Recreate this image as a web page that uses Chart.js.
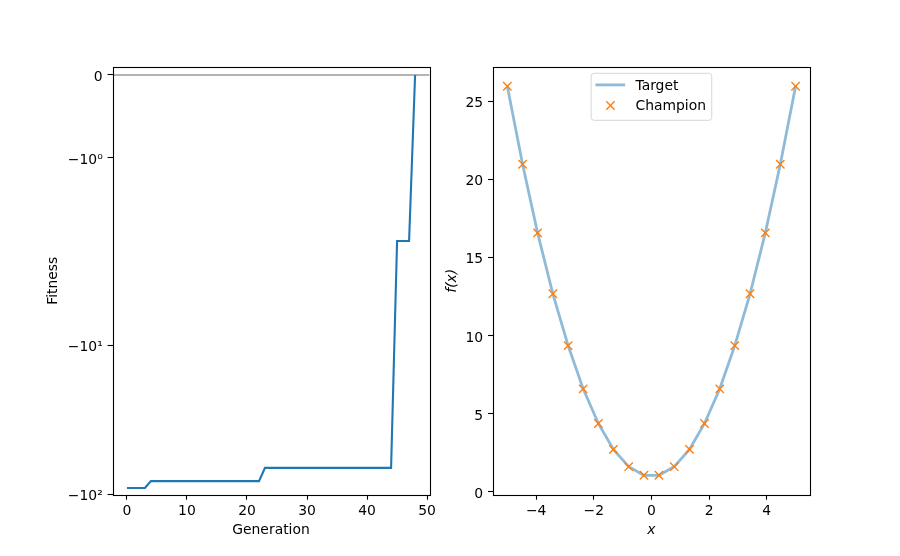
<!DOCTYPE html>
<html>
<head>
<meta charset="utf-8">
<script src="https://cdn.jsdelivr.net/npm/chart.js@4/dist/chart.umd.min.js"></script>
<style>
  html, body { margin: 0; padding: 0; background: #fff; }
  #wrap { position: relative; width: 900px; height: 556px; }
  #wrap canvas { position: absolute; left: 0; top: 0; }
</style>
</head>
<body>
<div id="wrap">
  <canvas id="fitnessChart" width="900" height="556"></canvas>
  <canvas id="fitChart" width="900" height="556"></canvas>
</div>
<script>
// Left panel: champion fitness per generation (symlog y axis)
var generations = [0, 1, 2, 3, 4, 5, 6, 7, 8, 9, 10, 11, 12, 13, 14, 15, 16, 17, 18, 19,
    20, 21, 22, 23, 24, 25, 26, 27, 28, 29, 30, 31, 32, 33, 34, 35, 36, 37, 38, 39,
    40, 41, 42, 43, 44, 45, 46, 47, 48];
var fitness = [-90, -90, -90, -90, -81, -81, -81, -81, -81, -81, -81, -81, -81, -81, -81, -81, -81, -81, -81, -81,
    -81, -81, -81, -66, -66, -66, -66, -66, -66, -66, -66, -66, -66, -66, -66, -66, -66, -66, -66, -66,
    -66, -66, -66, -66, -66, -2, -2, -2, 0];
var fitnessXTicks = [0, 10, 20, 30, 40, 50];
var fitnessYTicks = [0, -1, -10, -100];
var fitnessYTickLabels = ['0', '\u221210\u2070', '\u221210\u00b9', '\u221210\u00b2'];

// Right panel: target function vs champion
var xs = [-5, -4.47, -3.95, -3.42, -2.89, -2.37, -1.84, -1.32, -0.79, -0.26,
    0.26, 0.79, 1.32, 1.84, 2.37, 2.89, 3.42, 3.95, 4.47, 5];
var target = [26, 21.0, 16.6, 12.7, 9.38, 6.61, 4.39, 2.73, 1.62, 1.07,
    1.07, 1.62, 2.73, 4.39, 6.61, 9.38, 12.7, 16.6, 21.0, 26];
var champion = [26, 21.0, 16.6, 12.7, 9.38, 6.61, 4.39, 2.73, 1.62, 1.07,
    1.07, 1.62, 2.73, 4.39, 6.61, 9.38, 12.7, 16.6, 21.0, 26];
var fitXTicks = [-4, -2, 0, 2, 4];
var fitYTicks = [0, 5, 10, 15, 20, 25];

Chart.defaults.font.family = 'DejaVu Sans';
Chart.defaults.font.size = 13.9;
Chart.defaults.color = '#000';

// symlog transform, matplotlib style (base 10, linthresh 2, linscale 1)
var LINTHRESH = 2;
var LINSCALE_ADJ = 1 / (1 - 1 / 10);
function symlog(v) {
    var a = Math.abs(v);
    if (a <= LINTHRESH) return v * LINSCALE_ADJ;
    return Math.sign(v) * LINTHRESH * (LINSCALE_ADJ + Math.log10(a / LINTHRESH));
}
function symexp(t) {
    var a = Math.abs(t);
    if (a <= LINTHRESH * LINSCALE_ADJ) return t / LINSCALE_ADJ;
    return Math.sign(t) * LINTHRESH * Math.pow(10, a / LINTHRESH - LINSCALE_ADJ);
}

class SymlogScale extends Chart.LinearScale {
    static id = 'symlog';
    static defaults = {};
    buildTicks() {
        return (this.options.tickValues || []).map(function (v) { return { value: v }; });
    }
    configure() {
        super.configure();
        this._tStart = symlog(this.min);
        this._tRange = symlog(this.max) - this._tStart;
    }
    getPixelForValue(value) {
        if (value === null || isNaN(value)) return NaN;
        return this.getPixelForDecimal((symlog(value) - this._tStart) / this._tRange);
    }
    getValueForPixel(pixel) {
        return symexp(this._tStart + this.getDecimalForPixel(pixel) * this._tRange);
    }
}
Chart.register(SymlogScale);

function minus(v) {
    return v < 0 ? '\u2212' + Math.abs(v) : String(v);
}

function fixedTicks(values) {
    return function (scale) {
        scale.ticks = values.map(function (v) { return { value: v }; });
    };
}

var axisGrid = { drawOnChartArea: false, drawTicks: true, tickLength: 4.9, tickColor: '#000', tickWidth: 1.1 };
var axisBorder = { display: false };

// all four spines
var framePlugin = {
    id: 'frame',
    afterDraw: function (chart) {
        var a = chart.chartArea;
        var ctx = chart.ctx;
        ctx.save();
        ctx.strokeStyle = '#000';
        ctx.lineWidth = 1.1;
        ctx.strokeRect(Math.round(a.left) + 0.5, Math.round(a.top) + 0.5,
            Math.round(a.right - a.left), Math.round(a.bottom - a.top));
        ctx.restore();
    }
};

// matplotlib-like legend inside the axes, upper center
var boxLegendPlugin = {
    id: 'boxLegend',
    afterDatasetsDraw: function (chart) {
        var a = chart.chartArea;
        var ctx = chart.ctx;
        var w = 120.6, h = 47;
        var left = (a.left + a.right) / 2 - w / 2;
        var top = a.top + 6.6;
        ctx.save();
        ctx.beginPath();
        ctx.roundRect(left, top, w, h, 3);
        ctx.fillStyle = 'rgba(255,255,255,0.8)';
        ctx.fill();
        ctx.strokeStyle = 'rgba(204,204,204,0.8)';
        ctx.lineWidth = 1;
        ctx.stroke();
        ctx.font = '13.9px "DejaVu Sans"';
        ctx.textBaseline = 'middle';
        ctx.textAlign = 'left';
        chart.data.datasets.forEach(function (ds, i) {
            var y = top + 11.6 + i * 20.6;
            if (ds.showLine !== false) {
                ctx.strokeStyle = ds.borderColor;
                ctx.lineWidth = ds.borderWidth;
                ctx.beginPath();
                ctx.moveTo(left + 4.3, y);
                ctx.lineTo(left + 34, y);
                ctx.stroke();
            } else {
                ctx.strokeStyle = ds.pointBorderColor;
                ctx.lineWidth = ds.pointBorderWidth;
                ctx.beginPath();
                var r = ds.pointRadius * Math.SQRT1_2;
                ctx.moveTo(left + 19.3 - r, y - r); ctx.lineTo(left + 19.3 + r, y + r);
                ctx.moveTo(left + 19.3 - r, y + r); ctx.lineTo(left + 19.3 + r, y - r);
                ctx.stroke();
            }
            ctx.fillStyle = '#000';
            ctx.fillText(ds.label, left + 44.3, y + 1);
        });
        ctx.restore();
    }
};

// Fitness chart
var fitnessXMin = -2.4, fitnessXMax = 50.4;
new Chart(document.getElementById('fitnessChart'), {
    type: 'line',
    data: {
        datasets: [{
            label: 'zero',
            data: [{ x: fitnessXMin, y: 0 }, { x: fitnessXMax, y: 0 }],
            borderColor: '#b3b3b3',
            borderWidth: 2,
            pointRadius: 0,
            order: 1
        }, {
            label: 'Fitness',
            data: generations.map(function (g, i) { return { x: g, y: fitness[i] }; }),
            borderColor: '#1f77b4',
            borderWidth: 2.1,
            pointRadius: 0,
            tension: 0,
            order: 0
        }]
    },
    options: {
        responsive: false,
        animation: false,
        events: [],
        layout: { padding: { left: 42.5, top: 66.7, right: 470.5, bottom: 11.2 } },
        plugins: { legend: { display: false }, tooltip: { enabled: false } },
        scales: {
            x: {
                type: 'linear',
                min: fitnessXMin,
                max: fitnessXMax,
                afterBuildTicks: fixedTicks(fitnessXTicks),
                afterFit: function (s) { s.height = 50; },
                ticks: { padding: 3.5, maxRotation: 0, callback: function (v) { return minus(v); } },
                grid: axisGrid,
                border: axisBorder,
                title: { display: true, text: 'Generation', padding: { top: 0, bottom: 6 } }
            },
            y: {
                type: 'symlog',
                min: -100,
                max: 0.1,
                tickValues: fitnessYTicks,
                afterFit: function (s) { s.width = 70; },
                ticks: {
                    padding: 4.9,
                    labelOffset: 2,
                    callback: function (v, i) { return fitnessYTickLabels[i]; }
                },
                grid: axisGrid,
                border: axisBorder,
                title: { display: true, text: 'Fitness', padding: { top: 2.5, bottom: 0 } }
            }
        }
    },
    plugins: [framePlugin]
});

// Target vs champion chart
new Chart(document.getElementById('fitChart'), {
    type: 'line',
    data: {
        datasets: [{
            label: 'Target',
            data: xs.map(function (x, i) { return { x: x, y: target[i] }; }),
            borderColor: 'rgba(31,119,180,0.5)',
            borderWidth: 2.8,
            pointRadius: 0,
            tension: 0,
            order: 1
        }, {
            label: 'Champion',
            data: xs.map(function (x, i) { return { x: x, y: champion[i] }; }),
            showLine: false,
            pointStyle: 'crossRot',
            pointRadius: 5.9,
            pointBorderWidth: 1.4,
            pointBorderColor: '#ff7f0e',
            borderColor: '#ff7f0e',
            backgroundColor: '#ff7f0e',
            order: 0
        }]
    },
    options: {
        responsive: false,
        animation: false,
        events: [],
        layout: { padding: { left: 432.9, top: 66.7, right: 90, bottom: 11.2 } },
        plugins: { legend: { display: false }, tooltip: { enabled: false } },
        scales: {
            x: {
                type: 'linear',
                min: -5.5,
                max: 5.5,
                afterBuildTicks: fixedTicks(fitXTicks),
                afterFit: function (s) { s.height = 50; },
                ticks: { padding: 3.5, maxRotation: 0, callback: function (v) { return minus(v); } },
                grid: axisGrid,
                border: axisBorder,
                title: { display: true, text: 'x', font: { style: 'italic' }, padding: { top: 0, bottom: 6 } }
            },
            y: {
                type: 'linear',
                min: -0.18,
                max: 27.25,
                afterBuildTicks: fixedTicks(fitYTicks),
                afterFit: function (s) { s.width = 60; },
                ticks: { padding: 4.9, labelOffset: 2, callback: function (v) { return minus(v); } },
                grid: axisGrid,
                border: axisBorder,
                title: { display: true, text: 'f(x)', font: { style: 'italic' }, padding: { top: 11.5, bottom: 0 } }
            }
        }
    },
    plugins: [framePlugin, boxLegendPlugin]
});
</script>
</body>
</html>
